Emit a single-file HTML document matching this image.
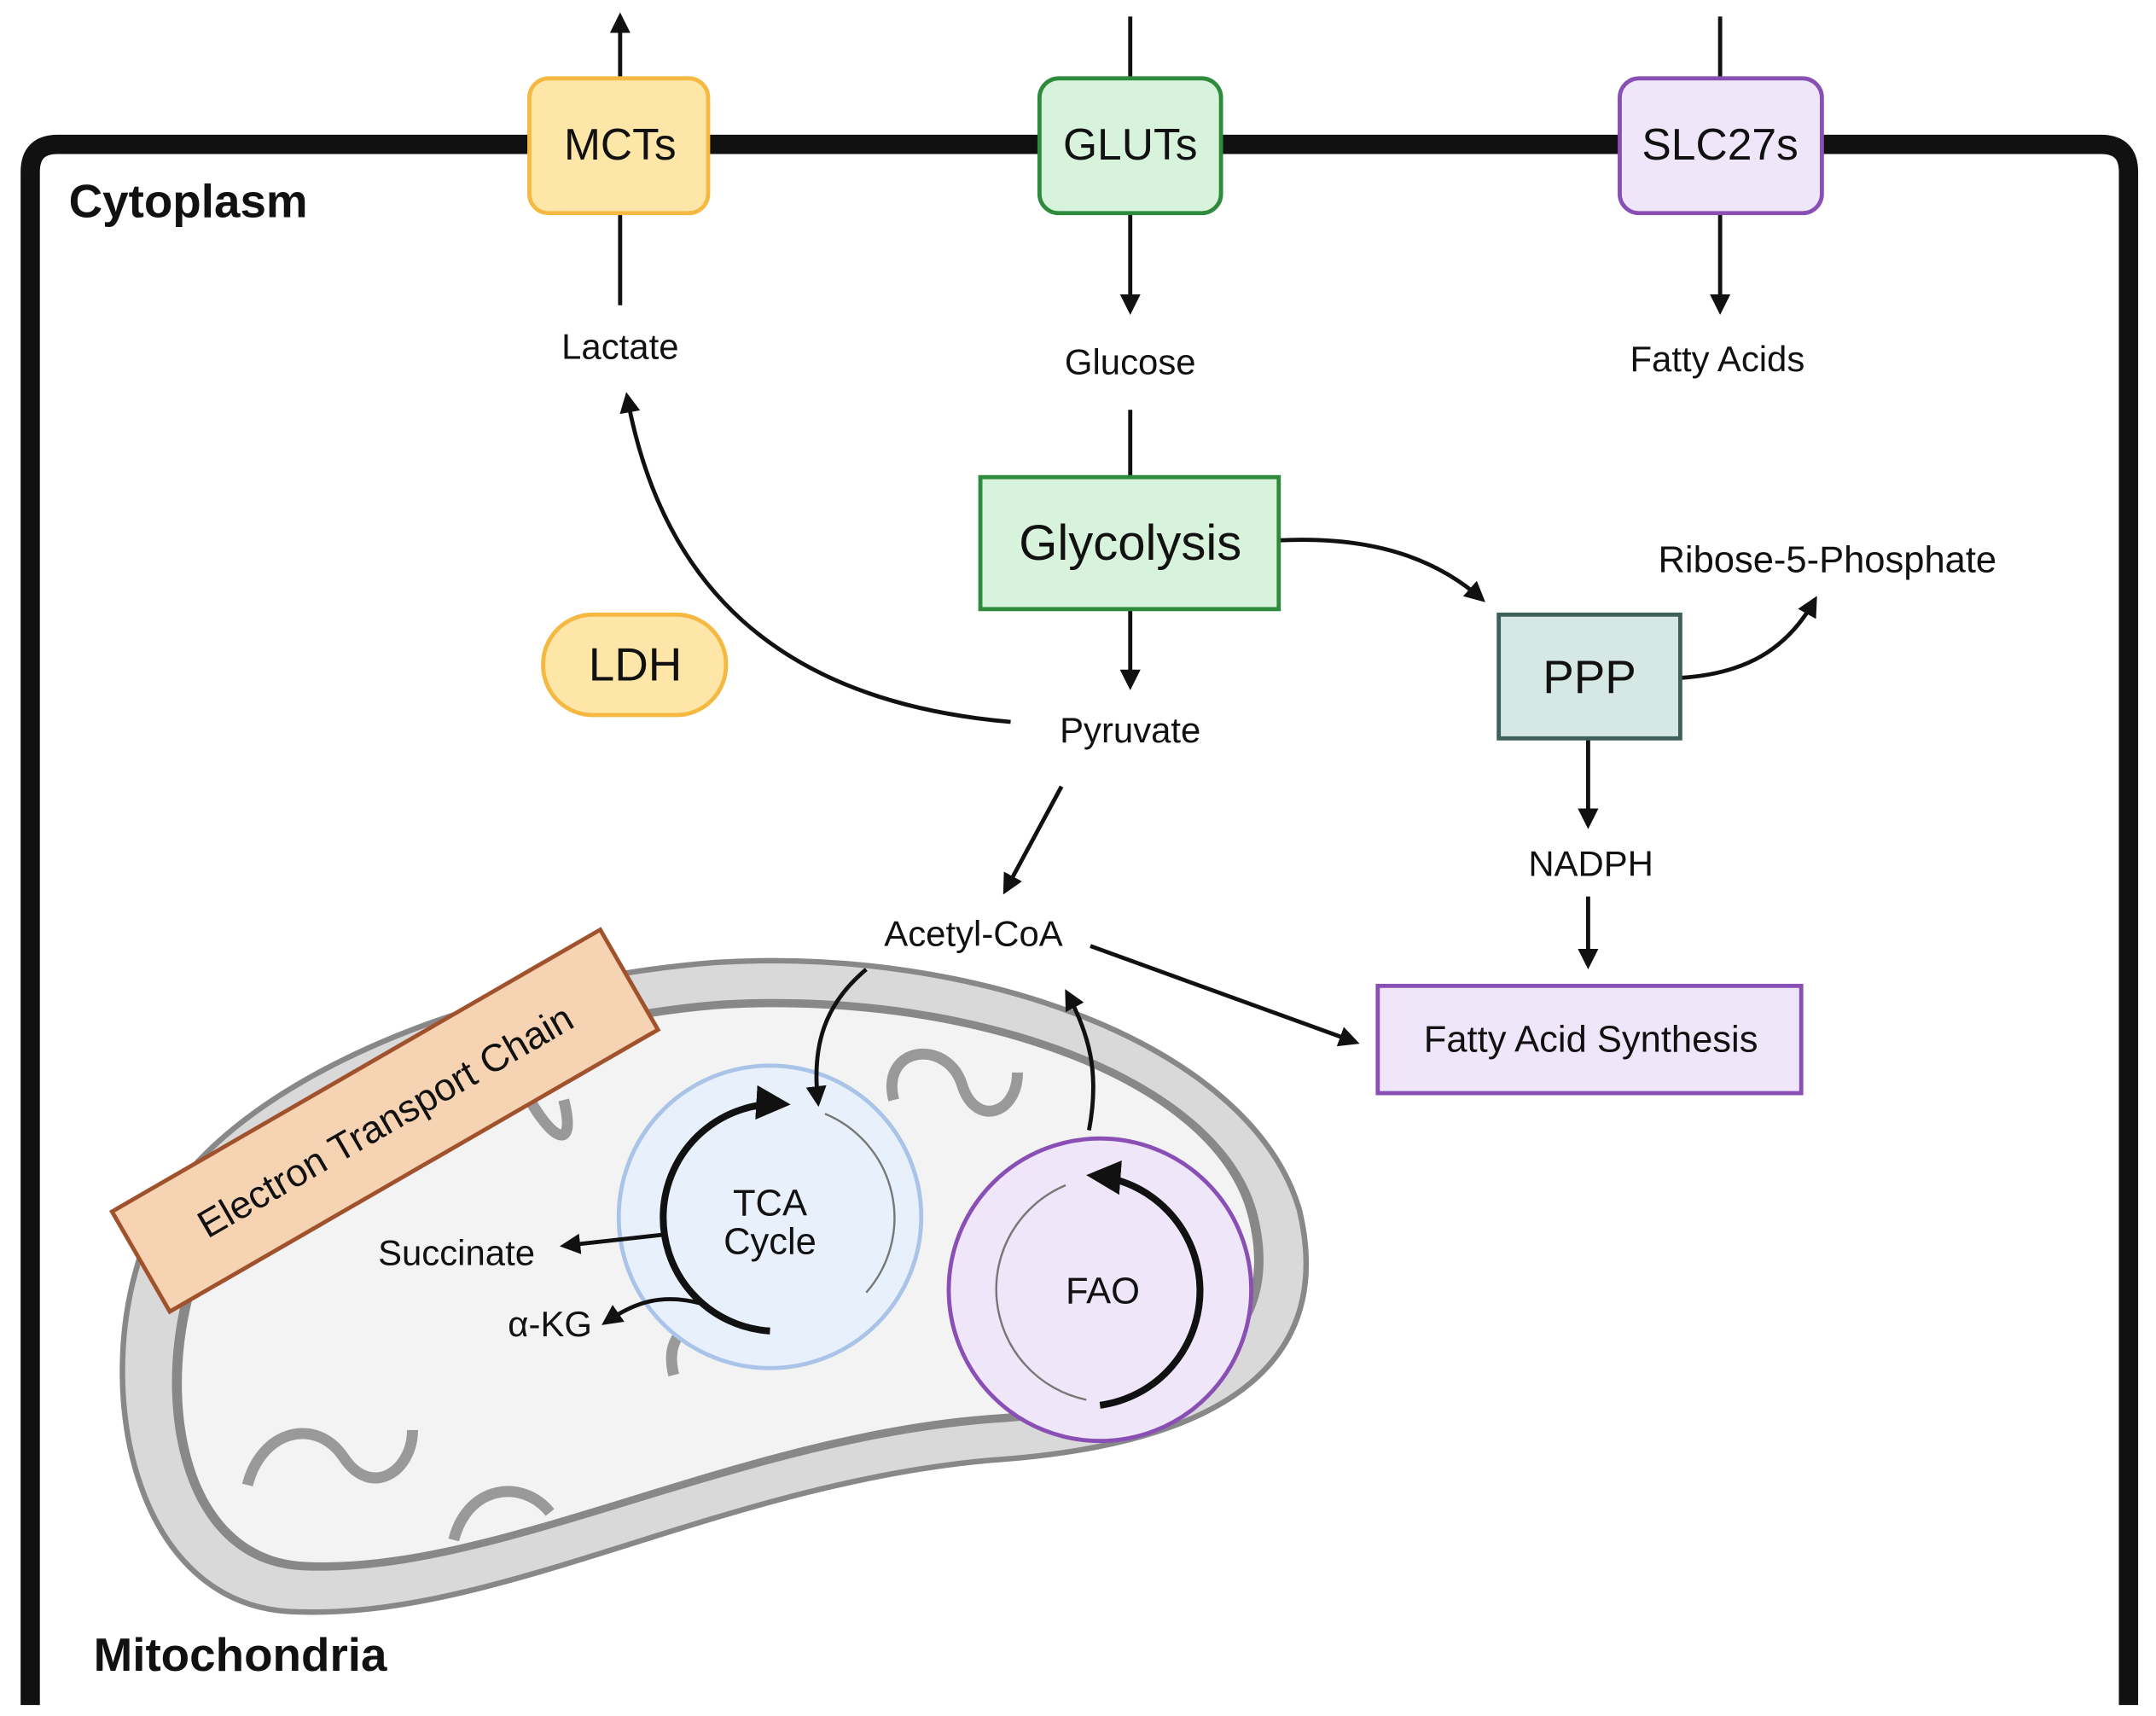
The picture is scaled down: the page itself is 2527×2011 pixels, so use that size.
<!DOCTYPE html>
<html><head><meta charset="utf-8"><style>html,body{margin:0;padding:0;background:#fff}svg{display:block}text{font-family:"Liberation Sans",sans-serif;fill:#111}</style></head>
<body>
<svg width="2527" height="2011" viewBox="0 0 1568 1248" preserveAspectRatio="none" xmlns="http://www.w3.org/2000/svg">
<defs>
<marker id="a" viewBox="0 0 10 10" refX="8" refY="5" markerWidth="5" markerHeight="5" orient="auto"><path d="M0,0 L10,5 L0,10 Z" fill="#111"/></marker>
</defs>
<rect width="1568" height="1248" fill="#fff"/>
<path d="M22,1240 L22,125 Q22,105 42,105 L1528,105 Q1548,105 1548,125 L1548,1240" fill="none" stroke="#111" stroke-width="14"/>
<g stroke="#111" stroke-width="3" fill="none">
<line x1="451" y1="222" x2="451" y2="150"/>
<line x1="451" y1="60" x2="451" y2="12" marker-end="url(#a)"/>
<line x1="822" y1="12" x2="822" y2="60"/>
<line x1="822" y1="150" x2="822" y2="226" marker-end="url(#a)"/>
<line x1="1251" y1="12" x2="1251" y2="60"/>
<line x1="1251" y1="150" x2="1251" y2="226" marker-end="url(#a)"/>
<line x1="822" y1="298" x2="822" y2="347"/>
<line x1="822" y1="443" x2="822" y2="499" marker-end="url(#a)"/>
<path d="M735,525 C560,510 480,420 456,288" marker-end="url(#a)"/>
<path d="M930,393 C990,390 1040,402 1078,436" marker-end="url(#a)"/>
<path d="M1222,493 C1270,490 1300,472 1320,436" marker-end="url(#a)"/>
<line x1="1155" y1="537" x2="1155" y2="600" marker-end="url(#a)"/>
<line x1="1155" y1="652" x2="1155" y2="702" marker-end="url(#a)"/>
<line x1="772" y1="572" x2="731" y2="648" marker-end="url(#a)"/>
<line x1="793" y1="688" x2="986" y2="758" marker-end="url(#a)"/>
</g>
<rect x="385" y="57" width="130" height="98" rx="14" fill="#fde6a8" stroke="#f5b942" stroke-width="3"/>
<text x="451" y="116" font-size="32" text-anchor="middle">MCTs</text>
<rect x="756" y="57" width="132" height="98" rx="14" fill="#d8f3dc" stroke="#2e8b3e" stroke-width="3"/>
<text x="822" y="116" font-size="32" text-anchor="middle">GLUTs</text>
<rect x="1178" y="57" width="147" height="98" rx="14" fill="#efe6fa" stroke="#8a4fb5" stroke-width="3"/>
<text x="1251" y="116" font-size="32" text-anchor="middle">SLC27s</text>
<text x="50" y="158" font-size="34" font-weight="bold">Cytoplasm</text>
<text x="451" y="261" font-size="26" text-anchor="middle">Lactate</text>
<text x="822" y="272" font-size="26" text-anchor="middle">Glucose</text>
<text x="1249" y="270" font-size="26" text-anchor="middle">Fatty Acids</text>
<rect x="713" y="347" width="217" height="96" fill="#d8f3dc" stroke="#2e8b3e" stroke-width="3"/>
<text x="822" y="407" font-size="36" text-anchor="middle">Glycolysis</text>
<text x="822" y="540" font-size="26" text-anchor="middle">Pyruvate</text>
<rect x="395" y="447" width="133" height="73" rx="36" fill="#fde6a8" stroke="#f5b942" stroke-width="3"/>
<text x="462" y="495" font-size="34" text-anchor="middle">LDH</text>
<rect x="1090" y="447" width="132" height="90" fill="#d5e8e4" stroke="#3f5f5a" stroke-width="3"/>
<text x="1156" y="504" font-size="34" text-anchor="middle">PPP</text>
<text x="1329" y="416" font-size="27" text-anchor="middle">Ribose-5-Phosphate</text>
<text x="1157" y="637" font-size="26" text-anchor="middle">NADPH</text>
<rect x="1002" y="717" width="308" height="78" fill="#efe6fa" stroke="#8a4fb5" stroke-width="3"/>
<text x="1157" y="765" font-size="27" text-anchor="middle">Fatty Acid Synthesis</text>
<path d="M100,920 C130,800 330,715 520,700 C710,688 910,760 945,880 C970,985 900,1050 720,1062 C520,1080 360,1180 210,1172 C100,1165 70,1020 100,920 Z" fill="#d9d9d9" stroke="#888" stroke-width="4"/>
<path d="M135,935 C160,830 350,742 520,728 C700,716 890,780 915,885 C935,970 880,1025 720,1035 C530,1050 360,1148 220,1142 C130,1138 110,1020 135,935 Z" fill="#888"/>
<path d="M142,937 C166,835 352,748 520,734 C698,722 884,784 908,886 C928,966 876,1019 720,1029 C530,1044 362,1142 222,1136 C136,1132 118,1020 142,937 Z" fill="#f3f3f3"/>
<g fill="none" stroke="#999" stroke-width="8">
<path d="M180,1080 C190,1040 230,1030 250,1060 C270,1090 300,1070 300,1040"/>
<path d="M330,1120 C340,1080 380,1075 400,1100"/>
<path d="M490,1000 C480,960 520,950 540,990"/>
<path d="M650,800 C640,760 690,755 700,790 C710,820 740,810 740,780"/>
<path d="M380,790 C400,830 420,840 410,800"/>
</g>
<g transform="translate(280,815) rotate(-30)">
<rect x="-205" y="-42" width="410" height="84" fill="#f6d3b3" stroke="#a0522d" stroke-width="3"/>
<text x="0" y="10" font-size="28" text-anchor="middle">Electron Transport Chain</text>
</g>
<circle cx="560" cy="885" r="110" fill="#e8f0fb" stroke="#a9c4e8" stroke-width="3"/>
<path d="M560,968 A82,82 0 1 1 570,803" fill="none" stroke="#111" stroke-width="5" marker-end="url(#a)"/>
<path d="M600,810 A82,82 0 0 1 630,940" fill="none" stroke="#777" stroke-width="1.5"/>
<text x="560" y="884" font-size="27" text-anchor="middle">TCA</text>
<text x="560" y="912" font-size="27" text-anchor="middle">Cycle</text>
<circle cx="800" cy="938" r="110" fill="#efe6fa" stroke="#8a4fb5" stroke-width="3"/>
<path d="M790,1018 A82,82 0 0 1 775,862" fill="none" stroke="#777" stroke-width="1.5"/>
<path d="M800,1022 A84,84 0 0 0 795,855" fill="none" stroke="#111" stroke-width="5" marker-end="url(#a)"/>
<text x="802" y="948" font-size="27" text-anchor="middle">FAO</text>
<g stroke="#111" stroke-width="3" fill="none">
<path d="M630,705 C600,730 590,760 595,802" marker-end="url(#a)"/>
<path d="M792,822 C800,780 792,752 776,722" marker-end="url(#a)"/>
<path d="M482,898 L410,906" marker-end="url(#a)"/>
<path d="M510,948 C480,940 460,948 440,962" marker-end="url(#a)"/>
</g>
<text x="708" y="688" font-size="26" text-anchor="middle">Acetyl-CoA</text>
<text x="332" y="920" font-size="26" text-anchor="middle">Succinate</text>
<text x="400" y="972" font-size="26" text-anchor="middle">α-KG</text>
<text x="68" y="1215" font-size="34" font-weight="bold">Mitochondria</text>
</svg>
</body></html>
